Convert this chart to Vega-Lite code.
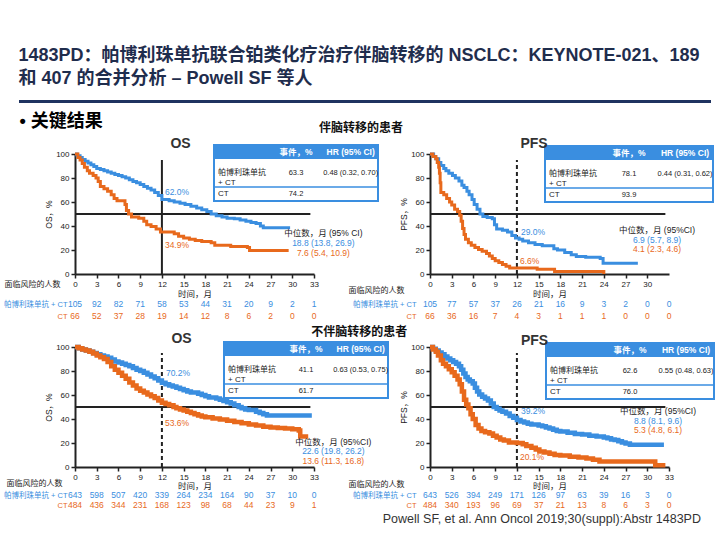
{
"$schema": "https://vega.github.io/schema/vega-lite/v6.json",
"padding": {"left": 3, "top": 47, "right": 2, "bottom": 2},
"background": "white",
"title": {"text": "1483PD：帕博利珠单抗联合铂类化疗治疗伴脑转移的 NSCLC：KEYNOTE-021、189", "subtitle": "和 407 的合并分析 – Powell SF 等人", "anchor": "start", "frame": "bounds", "fontSize": 18, "fontWeight": "bold", "color": "#1f2d4d", "subtitleFontSize": 18, "subtitleFontWeight": "bold", "subtitleColor": "#1f2d4d", "subtitlePadding": 5, "offset": 12, "dx": 15},
"columns": 1,
"spacing": 3,
"concat": [
{
 "width": 572, "height": 3,
 "data": {"values": [{}]},
 "mark": {"type": "rect", "color": "#1f3360"},
 "encoding": {
  "x": {"datum": 0, "type": "quantitative", "scale": {"domain": [0, 1], "range": [-56, 636]}, "axis": {"title": "• 关键结果", "titleAnchor": "start", "titleAlign": "left", "titleX": -56, "labels": false, "ticks": false, "domain": false, "titleFontSize": 18, "titleFontWeight": "bold", "titleColor": "#000000", "titlePadding": 9}},
  "x2": {"datum": 1},
  "y": {"datum": 0, "type": "quantitative", "scale": {"domain": [0, 1]}, "axis": null},
  "y2": {"datum": 1}
 },
 "title": {"text": "伴脑转移的患者", "orient": "bottom", "anchor": "middle", "frame": "group", "fontSize": 12, "fontWeight": "bold", "color": "#111111", "offset": -7}
},
{
 "columns": 2, "bounds": "flush", "align": "each", "spacing": {"row": 24, "column": 116},
 "concat": [
 {
  "width": 239, "height": 120,
  "title": {"text": "OS", "fontSize": 14, "fontWeight": "bold", "color": "#333333", "anchor": "middle", "frame": "group", "offset": 0, "dx": -14, "dy": 7},
  "layer": [
   {"layer": [
    {"data": {"values": [{}]}, "mark": {"type": "rule", "color": "#222222", "strokeWidth": 2},
     "encoding": {"x": {"datum": 12, "type": "quantitative", "title": "时间，月"}, "y": {"datum": 0, "type": "quantitative", "title": "OS，%"}, "y2": {"datum": 95}}},
    {"data": {"values": [{}]}, "mark": {"type": "rule", "color": "#222222", "strokeWidth": 1.8},
     "encoding": {"x": {"datum": 0, "type": "quantitative", "title": "时间，月"}, "x2": {"datum": 32.5}, "y": {"datum": 50, "type": "quantitative", "title": "OS，%"}}},
    {"data": {"name": "km"}, "transform": [{"filter": "datum.p == 'P1'"}],
     "mark": {"type": "line", "interpolate": "step-after", "strokeWidth": 3},
     "encoding": {
      "x": {"field": "t", "type": "quantitative", "title": "时间，月", "scale": {"domain": [0, 33], "nice": false}, "axis": {"values": [0,3,6,9,12,15,18,21,24,27,30,33], "tickCount": 12, "titlePadding": 1}},
      "y": {"field": "s", "type": "quantitative", "title": "OS，%", "scale": {"domain": [0, 100], "nice": false}, "axis": {"values": [0,20,40,60,80,100], "tickCount": 6, "titlePadding": 2}},
      "color": {"field": "a", "type": "nominal", "scale": {"domain": ["P", "C", "H"], "range": ["#3a8ee0", "#e8691c", "#222222"]}, "legend": null}}},
    {"data": {"name": "lm"}, "transform": [{"filter": "datum.p == 'P1' && datum.a == 'P'"}],
     "mark": {"type": "text", "align": "left", "baseline": "middle", "dx": 3, "dy": -8, "fontSize": 8.5},
     "encoding": {"x": {"field": "t", "type": "quantitative", "title": "时间，月"}, "y": {"field": "s", "type": "quantitative", "title": "OS，%"}, "text": {"field": "lab"}, "color": {"field": "a", "type": "nominal", "legend": null}}},
    {"data": {"name": "lm"}, "transform": [{"filter": "datum.p == 'P1' && datum.a == 'C'"}],
     "mark": {"type": "text", "align": "left", "baseline": "middle", "dx": 3, "dy": 13, "fontSize": 8.5},
     "encoding": {"x": {"field": "t", "type": "quantitative", "title": "时间，月"}, "y": {"field": "s", "type": "quantitative", "title": "OS，%"}, "text": {"field": "lab"}, "color": {"field": "a", "type": "nominal", "legend": null}}}
   ]},
   {"layer": [
     {"layer": [
      {"data": {"values": [{}]}, "mark": {"type": "rect", "fill": "#ffffff", "stroke": "#3a8ee0", "strokeWidth": 2},
       "encoding": {
        "x": {"datum": "name", "type": "nominal", "bandPosition": 0, "scale": {"domain": ["name", "ev", "hr"], "range": [139, 303], "paddingInner": 0, "paddingOuter": 0}, "axis": null},
        "x2": {"datum": "hr", "bandPosition": 1},
        "y": {"datum": "h", "type": "nominal", "bandPosition": 0, "scale": {"domain": ["h", "a", "a2", "b"], "range": [-9, 47], "paddingInner": 0, "paddingOuter": 0}, "axis": null},
        "y2": {"datum": "b", "bandPosition": 1}}},
      {"data": {"values": [{}]}, "mark": {"type": "rect", "fill": "#3a8ee0"},
       "encoding": {"x": {"datum": "name", "type": "nominal", "bandPosition": 0, "axis": null}, "x2": {"datum": "hr", "bandPosition": 1}, "y": {"datum": "h", "type": "nominal", "axis": null}}},
      {"data": {"values": [{}]}, "mark": {"type": "rule", "color": "#3a8ee0", "strokeWidth": 1.5},
       "encoding": {"x": {"datum": "name", "type": "nominal", "bandPosition": 0, "axis": null}, "x2": {"datum": "hr", "bandPosition": 1}, "y": {"datum": "b", "type": "nominal", "bandPosition": 0, "axis": null}}},
      {"data": {"name": "tbl"}, "transform": [{"filter": "datum.p == 'P1' && datum.r == 'h'"}],
       "mark": {"type": "text", "color": "#ffffff", "fontWeight": "bold", "fontSize": 8.5},
       "encoding": {"x": {"field": "c", "type": "nominal", "axis": null}, "y": {"field": "r", "type": "nominal", "axis": null}, "text": {"field": "t"}}},
      {"data": {"name": "tbl"}, "transform": [{"filter": "datum.p == 'P1' && datum.r == 'a' && datum.c == 'name'"}],
       "mark": {"type": "text", "color": "#222222", "align": "left", "dx": 4, "fontSize": 8, "lineBreak": "\n", "lineHeight": 9.5},
       "encoding": {"x": {"field": "c", "type": "nominal", "bandPosition": 0, "axis": null}, "y": {"field": "r", "type": "nominal", "bandPosition": 1, "axis": null}, "text": {"field": "t"}}},
      {"data": {"name": "tbl"}, "transform": [{"filter": "datum.p == 'P1' && datum.r == 'a' && datum.c != 'name'"}],
       "mark": {"type": "text", "color": "#222222", "fontSize": 7.5},
       "encoding": {"x": {"field": "c", "type": "nominal", "axis": null}, "y": {"field": "r", "type": "nominal", "bandPosition": 1, "axis": null}, "text": {"field": "t"}}},
      {"data": {"name": "tbl"}, "transform": [{"filter": "datum.p == 'P1' && datum.r == 'b' && datum.c == 'name'"}],
       "mark": {"type": "text", "color": "#222222", "align": "left", "dx": 4, "fontSize": 8},
       "encoding": {"x": {"field": "c", "type": "nominal", "bandPosition": 0, "axis": null}, "y": {"field": "r", "type": "nominal", "axis": null}, "text": {"field": "t"}}},
      {"data": {"name": "tbl"}, "transform": [{"filter": "datum.p == 'P1' && datum.r == 'b' && datum.c != 'name'"}],
       "mark": {"type": "text", "color": "#222222", "fontSize": 7.5},
       "encoding": {"x": {"field": "c", "type": "nominal", "axis": null}, "y": {"field": "r", "type": "nominal", "axis": null}, "text": {"field": "t"}}}
     ]},
     {"data": {"name": "med"}, "transform": [{"filter": "datum.p == 'P1'"}],
      "mark": {"type": "text", "fontSize": 8.5},
      "encoding": {"x": {"datum": "ev", "type": "nominal", "bandPosition": 1, "axis": null}, "y": {"field": "row", "type": "nominal", "scale": {"domain": ["m0", "m1", "m2"], "range": [74, 104.5], "paddingInner": 0, "paddingOuter": 0}, "axis": null}, "text": {"field": "lab"}, "color": {"field": "a", "type": "nominal", "legend": null}}}
    ],
    "resolve": {"scale": {"y": "independent"}}}
  ],
  "resolve": {"scale": {"x": "independent", "y": "independent"}}
 },
 {
  "width": 239, "height": 120,
  "title": {"text": "PFS", "fontSize": 14, "fontWeight": "bold", "color": "#333333", "anchor": "middle", "frame": "group", "offset": 0, "dx": -15.5, "dy": 6},
  "layer": [
   {"layer": [
    {"data": {"values": [{}]}, "mark": {"type": "rule", "color": "#222222", "strokeWidth": 2, "strokeDash": [4, 3]},
     "encoding": {"x": {"datum": 12, "type": "quantitative", "title": "时间，月"}, "y": {"datum": 0, "type": "quantitative", "title": "PFS，%"}, "y2": {"datum": 95}}},
    {"data": {"values": [{}]}, "mark": {"type": "rule", "color": "#222222", "strokeWidth": 1.8},
     "encoding": {"x": {"datum": 0, "type": "quantitative", "title": "时间，月"}, "x2": {"datum": 32.5}, "y": {"datum": 50, "type": "quantitative", "title": "PFS，%"}}},
    {"data": {"name": "km"}, "transform": [{"filter": "datum.p == 'P2'"}],
     "mark": {"type": "line", "interpolate": "step-after", "strokeWidth": 3},
     "encoding": {
      "x": {"field": "t", "type": "quantitative", "title": "时间，月", "scale": {"domain": [0, 33], "nice": false}, "axis": {"values": [0,3,6,9,12,15,18,21,24,27,30], "tickCount": 11, "titlePadding": 1}},
      "y": {"field": "s", "type": "quantitative", "title": "PFS，%", "scale": {"domain": [0, 100], "nice": false}, "axis": {"values": [0,20,40,60,80,100], "tickCount": 6, "titlePadding": 2}},
      "color": {"field": "a", "type": "nominal", "scale": {"domain": ["P", "C", "H"], "range": ["#3a8ee0", "#e8691c", "#222222"]}, "legend": null}}},
    {"data": {"name": "lm"}, "transform": [{"filter": "datum.p == 'P2' && datum.a == 'P'"}],
     "mark": {"type": "text", "align": "left", "baseline": "middle", "dx": 4, "dy": -7, "fontSize": 8.5},
     "encoding": {"x": {"field": "t", "type": "quantitative", "title": "时间，月"}, "y": {"field": "s", "type": "quantitative", "title": "PFS，%"}, "text": {"field": "lab"}, "color": {"field": "a", "type": "nominal", "legend": null}}},
    {"data": {"name": "lm"}, "transform": [{"filter": "datum.p == 'P2' && datum.a == 'C'"}],
     "mark": {"type": "text", "align": "left", "baseline": "middle", "dx": 3, "dy": -5, "fontSize": 8.5},
     "encoding": {"x": {"field": "t", "type": "quantitative", "title": "时间，月"}, "y": {"field": "s", "type": "quantitative", "title": "PFS，%"}, "text": {"field": "lab"}, "color": {"field": "a", "type": "nominal", "legend": null}}}
   ]},
   {"layer": [
     {"layer": [
      {"data": {"values": [{}]}, "mark": {"type": "rect", "fill": "#ffffff", "stroke": "#3a8ee0", "strokeWidth": 2},
       "encoding": {
        "x": {"datum": "name", "type": "nominal", "bandPosition": 0, "scale": {"domain": ["name", "ev", "hr"], "range": [115, 283], "paddingInner": 0, "paddingOuter": 0}, "axis": null},
        "x2": {"datum": "hr", "bandPosition": 1},
        "y": {"datum": "h", "type": "nominal", "bandPosition": 0, "scale": {"domain": ["h", "a", "a2", "b"], "range": [-8, 48], "paddingInner": 0, "paddingOuter": 0}, "axis": null},
        "y2": {"datum": "b", "bandPosition": 1}}},
      {"data": {"values": [{}]}, "mark": {"type": "rect", "fill": "#3a8ee0"},
       "encoding": {"x": {"datum": "name", "type": "nominal", "bandPosition": 0, "axis": null}, "x2": {"datum": "hr", "bandPosition": 1}, "y": {"datum": "h", "type": "nominal", "axis": null}}},
      {"data": {"values": [{}]}, "mark": {"type": "rule", "color": "#3a8ee0", "strokeWidth": 1.5},
       "encoding": {"x": {"datum": "name", "type": "nominal", "bandPosition": 0, "axis": null}, "x2": {"datum": "hr", "bandPosition": 1}, "y": {"datum": "b", "type": "nominal", "bandPosition": 0, "axis": null}}},
      {"data": {"name": "tbl"}, "transform": [{"filter": "datum.p == 'P2' && datum.r == 'h'"}],
       "mark": {"type": "text", "color": "#ffffff", "fontWeight": "bold", "fontSize": 8.5},
       "encoding": {"x": {"field": "c", "type": "nominal", "axis": null}, "y": {"field": "r", "type": "nominal", "axis": null}, "text": {"field": "t"}}},
      {"data": {"name": "tbl"}, "transform": [{"filter": "datum.p == 'P2' && datum.r == 'a' && datum.c == 'name'"}],
       "mark": {"type": "text", "color": "#222222", "align": "left", "dx": 4, "fontSize": 8, "lineBreak": "\n", "lineHeight": 9.5},
       "encoding": {"x": {"field": "c", "type": "nominal", "bandPosition": 0, "axis": null}, "y": {"field": "r", "type": "nominal", "bandPosition": 1, "axis": null}, "text": {"field": "t"}}},
      {"data": {"name": "tbl"}, "transform": [{"filter": "datum.p == 'P2' && datum.r == 'a' && datum.c != 'name'"}],
       "mark": {"type": "text", "color": "#222222", "fontSize": 7.5},
       "encoding": {"x": {"field": "c", "type": "nominal", "axis": null}, "y": {"field": "r", "type": "nominal", "bandPosition": 1, "axis": null}, "text": {"field": "t"}}},
      {"data": {"name": "tbl"}, "transform": [{"filter": "datum.p == 'P2' && datum.r == 'b' && datum.c == 'name'"}],
       "mark": {"type": "text", "color": "#222222", "align": "left", "dx": 4, "fontSize": 8},
       "encoding": {"x": {"field": "c", "type": "nominal", "bandPosition": 0, "axis": null}, "y": {"field": "r", "type": "nominal", "axis": null}, "text": {"field": "t"}}},
      {"data": {"name": "tbl"}, "transform": [{"filter": "datum.p == 'P2' && datum.r == 'b' && datum.c != 'name'"}],
       "mark": {"type": "text", "color": "#222222", "fontSize": 7.5},
       "encoding": {"x": {"field": "c", "type": "nominal", "axis": null}, "y": {"field": "r", "type": "nominal", "axis": null}, "text": {"field": "t"}}}
     ]},
     {"data": {"name": "med"}, "transform": [{"filter": "datum.p == 'P2'"}],
      "mark": {"type": "text", "fontSize": 8.5},
      "encoding": {"x": {"datum": "ev", "type": "nominal", "bandPosition": 1, "axis": null}, "y": {"field": "row", "type": "nominal", "scale": {"domain": ["m0", "m1", "m2"], "range": [71, 100], "paddingInner": 0, "paddingOuter": 0}, "axis": null}, "text": {"field": "lab"}, "color": {"field": "a", "type": "nominal", "legend": null}}}
    ],
    "resolve": {"scale": {"y": "independent"}}}
  ],
  "resolve": {"scale": {"x": "independent", "y": "independent"}}
 },
 {
  "width": 239, "height": 24,
  "data": {"name": "risk"},
  "transform": [{"filter": "datum.p == 'P1'"}],
  "mark": {"type": "text", "fontSize": 8.5},
  "encoding": {
   "x": {"field": "t", "type": "quantitative", "scale": {"domain": [0, 33], "nice": false}, "axis": null},
   "y": {"field": "a", "type": "nominal", "scale": {"domain": ["P", "C"], "paddingInner": 0, "paddingOuter": 0}, "axis": {"title": "面临风险的人数", "titleAngle": 0, "titleAlign": "left", "titleBaseline": "middle", "titleX": -71, "titleY": -14, "titleFontSize": 8, "domain": false, "ticks": false, "labelPadding": 8, "labelFontSize": 7.5, "labelExpr": "datum.value == 'P' ? '帕博利珠单抗 + CT' : 'CT'", "labelColor": {"condition": {"test": "datum.value == 'C'", "value": "#e8691c"}, "value": "#3a8ee0"}}},
   "text": {"field": "n", "type": "quantitative"},
   "color": {"field": "a", "type": "nominal", "scale": {"domain": ["P", "C", "H"], "range": ["#3a8ee0", "#e8691c", "#222222"]}, "legend": null}
  }
 },
 {
  "width": 239, "height": 24,
  "data": {"name": "risk"},
  "transform": [{"filter": "datum.p == 'P2'"}],
  "mark": {"type": "text", "fontSize": 8.5},
  "encoding": {
   "x": {"field": "t", "type": "quantitative", "scale": {"domain": [0, 33], "nice": false}, "axis": null},
   "y": {"field": "a", "type": "nominal", "scale": {"domain": ["P", "C"], "paddingInner": 0, "paddingOuter": 0}, "axis": {"title": "面临风险的人数", "titleAngle": 0, "titleAlign": "left", "titleBaseline": "middle", "titleX": -82, "titleY": -8, "titleFontSize": 8, "domain": false, "ticks": false, "labelPadding": 14, "labelFontSize": 7.5, "labelExpr": "datum.value == 'P' ? '帕博利珠单抗 + CT' : 'CT'", "labelColor": {"condition": {"test": "datum.value == 'C'", "value": "#e8691c"}, "value": "#3a8ee0"}}},
   "text": {"field": "n", "type": "quantitative"},
   "color": {"field": "a", "type": "nominal", "scale": {"domain": ["P", "C", "H"], "range": ["#3a8ee0", "#e8691c", "#222222"]}, "legend": null}
  }
 }
 ]
},
{
 "columns": 2, "bounds": "flush", "align": "each", "spacing": {"row": 23, "column": 116},
 "title": {"text": "不伴脑转移的患者", "anchor": "middle", "frame": "bounds", "fontSize": 12, "fontWeight": "bold", "color": "#111111", "offset": -6.5},
 "concat": [
 {
  "width": 239, "height": 120,
  "title": {"text": "OS", "fontSize": 14, "fontWeight": "bold", "color": "#333333", "anchor": "middle", "frame": "group", "offset": 0, "dx": -13, "dy": 8},
  "layer": [
   {"layer": [
    {"data": {"values": [{}]}, "mark": {"type": "rule", "color": "#222222", "strokeWidth": 2, "strokeDash": [4, 3]},
     "encoding": {"x": {"datum": 12, "type": "quantitative", "title": "时间，月"}, "y": {"datum": 0, "type": "quantitative", "title": "OS，%"}, "y2": {"datum": 95}}},
    {"data": {"values": [{}]}, "mark": {"type": "rule", "color": "#222222", "strokeWidth": 1.8},
     "encoding": {"x": {"datum": 0, "type": "quantitative", "title": "时间，月"}, "x2": {"datum": 32.5}, "y": {"datum": 50, "type": "quantitative", "title": "OS，%"}}},
    {"data": {"name": "km"}, "transform": [{"filter": "datum.p == 'P3'"}],
     "mark": {"type": "line", "interpolate": "step-after", "strokeWidth": 4.5},
     "encoding": {
      "x": {"field": "t", "type": "quantitative", "title": "时间，月", "scale": {"domain": [0, 33], "nice": false}, "axis": {"values": [0,3,6,9,12,15,18,21,24,27,30,33], "tickCount": 12, "titlePadding": 0}},
      "y": {"field": "s", "type": "quantitative", "title": "OS，%", "scale": {"domain": [0, 100], "nice": false}, "axis": {"values": [0,20,40,60,80,100], "tickCount": 6, "titlePadding": 2}},
      "color": {"field": "a", "type": "nominal", "scale": {"domain": ["P", "C", "H"], "range": ["#3a8ee0", "#e8691c", "#222222"]}, "legend": null}}},
    {"data": {"name": "lm"}, "transform": [{"filter": "datum.p == 'P3' && datum.a == 'P'"}],
     "mark": {"type": "text", "align": "left", "baseline": "middle", "dx": 4, "dy": -10, "fontSize": 8.5},
     "encoding": {"x": {"field": "t", "type": "quantitative", "title": "时间，月"}, "y": {"field": "s", "type": "quantitative", "title": "OS，%"}, "text": {"field": "lab"}, "color": {"field": "a", "type": "nominal", "legend": null}}},
    {"data": {"name": "lm"}, "transform": [{"filter": "datum.p == 'P3' && datum.a == 'C'"}],
     "mark": {"type": "text", "align": "left", "baseline": "middle", "dx": 3, "dy": 20, "fontSize": 8.5},
     "encoding": {"x": {"field": "t", "type": "quantitative", "title": "时间，月"}, "y": {"field": "s", "type": "quantitative", "title": "OS，%"}, "text": {"field": "lab"}, "color": {"field": "a", "type": "nominal", "legend": null}}}
   ]},
   {"layer": [
     {"layer": [
      {"data": {"values": [{}]}, "mark": {"type": "rect", "fill": "#ffffff", "stroke": "#3a8ee0", "strokeWidth": 2},
       "encoding": {
        "x": {"datum": "name", "type": "nominal", "bandPosition": 0, "scale": {"domain": ["name", "ev", "hr"], "range": [149, 313], "paddingInner": 0, "paddingOuter": 0}, "axis": null},
        "x2": {"datum": "hr", "bandPosition": 1},
        "y": {"datum": "h", "type": "nominal", "bandPosition": 0, "scale": {"domain": ["h", "a", "a2", "b"], "range": [-5, 51], "paddingInner": 0, "paddingOuter": 0}, "axis": null},
        "y2": {"datum": "b", "bandPosition": 1}}},
      {"data": {"values": [{}]}, "mark": {"type": "rect", "fill": "#3a8ee0"},
       "encoding": {"x": {"datum": "name", "type": "nominal", "bandPosition": 0, "axis": null}, "x2": {"datum": "hr", "bandPosition": 1}, "y": {"datum": "h", "type": "nominal", "axis": null}}},
      {"data": {"values": [{}]}, "mark": {"type": "rule", "color": "#3a8ee0", "strokeWidth": 1.5},
       "encoding": {"x": {"datum": "name", "type": "nominal", "bandPosition": 0, "axis": null}, "x2": {"datum": "hr", "bandPosition": 1}, "y": {"datum": "b", "type": "nominal", "bandPosition": 0, "axis": null}}},
      {"data": {"name": "tbl"}, "transform": [{"filter": "datum.p == 'P3' && datum.r == 'h'"}],
       "mark": {"type": "text", "color": "#ffffff", "fontWeight": "bold", "fontSize": 8.5},
       "encoding": {"x": {"field": "c", "type": "nominal", "axis": null}, "y": {"field": "r", "type": "nominal", "axis": null}, "text": {"field": "t"}}},
      {"data": {"name": "tbl"}, "transform": [{"filter": "datum.p == 'P3' && datum.r == 'a' && datum.c == 'name'"}],
       "mark": {"type": "text", "color": "#222222", "align": "left", "dx": 4, "fontSize": 8, "lineBreak": "\n", "lineHeight": 9.5},
       "encoding": {"x": {"field": "c", "type": "nominal", "bandPosition": 0, "axis": null}, "y": {"field": "r", "type": "nominal", "bandPosition": 1, "axis": null}, "text": {"field": "t"}}},
      {"data": {"name": "tbl"}, "transform": [{"filter": "datum.p == 'P3' && datum.r == 'a' && datum.c != 'name'"}],
       "mark": {"type": "text", "color": "#222222", "fontSize": 7.5},
       "encoding": {"x": {"field": "c", "type": "nominal", "axis": null}, "y": {"field": "r", "type": "nominal", "bandPosition": 1, "axis": null}, "text": {"field": "t"}}},
      {"data": {"name": "tbl"}, "transform": [{"filter": "datum.p == 'P3' && datum.r == 'b' && datum.c == 'name'"}],
       "mark": {"type": "text", "color": "#222222", "align": "left", "dx": 4, "fontSize": 8},
       "encoding": {"x": {"field": "c", "type": "nominal", "bandPosition": 0, "axis": null}, "y": {"field": "r", "type": "nominal", "axis": null}, "text": {"field": "t"}}},
      {"data": {"name": "tbl"}, "transform": [{"filter": "datum.p == 'P3' && datum.r == 'b' && datum.c != 'name'"}],
       "mark": {"type": "text", "color": "#222222", "fontSize": 7.5},
       "encoding": {"x": {"field": "c", "type": "nominal", "axis": null}, "y": {"field": "r", "type": "nominal", "axis": null}, "text": {"field": "t"}}}
     ]},
     {"data": {"name": "med"}, "transform": [{"filter": "datum.p == 'P3'"}],
      "mark": {"type": "text", "fontSize": 8.5},
      "encoding": {"x": {"datum": "ev", "type": "nominal", "bandPosition": 1, "axis": null}, "y": {"field": "row", "type": "nominal", "scale": {"domain": ["m0", "m1", "m2"], "range": [90, 118.5], "paddingInner": 0, "paddingOuter": 0}, "axis": null}, "text": {"field": "lab"}, "color": {"field": "a", "type": "nominal", "legend": null}}}
    ],
    "resolve": {"scale": {"y": "independent"}}}
  ],
  "resolve": {"scale": {"x": "independent", "y": "independent"}}
 },
 {
  "width": 239, "height": 120,
  "title": {"text": "PFS", "fontSize": 14, "fontWeight": "bold", "color": "#333333", "anchor": "middle", "frame": "group", "offset": 0, "dx": -15, "dy": 10},
  "layer": [
   {"layer": [
    {"data": {"values": [{}]}, "mark": {"type": "rule", "color": "#222222", "strokeWidth": 2, "strokeDash": [4, 3]},
     "encoding": {"x": {"datum": 12, "type": "quantitative", "title": "时间，月"}, "y": {"datum": 0, "type": "quantitative", "title": "PFS，%"}, "y2": {"datum": 95}}},
    {"data": {"values": [{}]}, "mark": {"type": "rule", "color": "#222222", "strokeWidth": 1.8},
     "encoding": {"x": {"datum": 0, "type": "quantitative", "title": "时间，月"}, "x2": {"datum": 32.5}, "y": {"datum": 50, "type": "quantitative", "title": "PFS，%"}}},
    {"data": {"name": "km"}, "transform": [{"filter": "datum.p == 'P4'"}],
     "mark": {"type": "line", "interpolate": "step-after", "strokeWidth": 4.5},
     "encoding": {
      "x": {"field": "t", "type": "quantitative", "title": "时间，月", "scale": {"domain": [0, 33], "nice": false}, "axis": {"values": [0,3,6,9,12,15,18,21,24,27,30,33], "tickCount": 12, "titlePadding": 0}},
      "y": {"field": "s", "type": "quantitative", "title": "PFS，%", "scale": {"domain": [0, 100], "nice": false}, "axis": {"values": [0,20,40,60,80,100], "tickCount": 6, "titlePadding": 2}},
      "color": {"field": "a", "type": "nominal", "scale": {"domain": ["P", "C", "H"], "range": ["#3a8ee0", "#e8691c", "#222222"]}, "legend": null}}},
    {"data": {"name": "lm"}, "transform": [{"filter": "datum.p == 'P4' && datum.a == 'P'"}],
     "mark": {"type": "text", "align": "left", "baseline": "middle", "dx": 4, "dy": -9, "fontSize": 8.5},
     "encoding": {"x": {"field": "t", "type": "quantitative", "title": "时间，月"}, "y": {"field": "s", "type": "quantitative", "title": "PFS，%"}, "text": {"field": "lab"}, "color": {"field": "a", "type": "nominal", "legend": null}}},
    {"data": {"name": "lm"}, "transform": [{"filter": "datum.p == 'P4' && datum.a == 'C'"}],
     "mark": {"type": "text", "align": "left", "baseline": "middle", "dx": 3, "dy": 14, "fontSize": 8.5},
     "encoding": {"x": {"field": "t", "type": "quantitative", "title": "时间，月"}, "y": {"field": "s", "type": "quantitative", "title": "PFS，%"}, "text": {"field": "lab"}, "color": {"field": "a", "type": "nominal", "legend": null}}}
   ]},
   {"layer": [
     {"layer": [
      {"data": {"values": [{}]}, "mark": {"type": "rect", "fill": "#ffffff", "stroke": "#3a8ee0", "strokeWidth": 2},
       "encoding": {
        "x": {"datum": "name", "type": "nominal", "bandPosition": 0, "scale": {"domain": ["name", "ev", "hr"], "range": [116, 284], "paddingInner": 0, "paddingOuter": 0}, "axis": null},
        "x2": {"datum": "hr", "bandPosition": 1},
        "y": {"datum": "h", "type": "nominal", "bandPosition": 0, "scale": {"domain": ["h", "a", "a2", "b"], "range": [-4, 52], "paddingInner": 0, "paddingOuter": 0}, "axis": null},
        "y2": {"datum": "b", "bandPosition": 1}}},
      {"data": {"values": [{}]}, "mark": {"type": "rect", "fill": "#3a8ee0"},
       "encoding": {"x": {"datum": "name", "type": "nominal", "bandPosition": 0, "axis": null}, "x2": {"datum": "hr", "bandPosition": 1}, "y": {"datum": "h", "type": "nominal", "axis": null}}},
      {"data": {"values": [{}]}, "mark": {"type": "rule", "color": "#3a8ee0", "strokeWidth": 1.5},
       "encoding": {"x": {"datum": "name", "type": "nominal", "bandPosition": 0, "axis": null}, "x2": {"datum": "hr", "bandPosition": 1}, "y": {"datum": "b", "type": "nominal", "bandPosition": 0, "axis": null}}},
      {"data": {"name": "tbl"}, "transform": [{"filter": "datum.p == 'P4' && datum.r == 'h'"}],
       "mark": {"type": "text", "color": "#ffffff", "fontWeight": "bold", "fontSize": 8.5},
       "encoding": {"x": {"field": "c", "type": "nominal", "axis": null}, "y": {"field": "r", "type": "nominal", "axis": null}, "text": {"field": "t"}}},
      {"data": {"name": "tbl"}, "transform": [{"filter": "datum.p == 'P4' && datum.r == 'a' && datum.c == 'name'"}],
       "mark": {"type": "text", "color": "#222222", "align": "left", "dx": 4, "fontSize": 8, "lineBreak": "\n", "lineHeight": 9.5},
       "encoding": {"x": {"field": "c", "type": "nominal", "bandPosition": 0, "axis": null}, "y": {"field": "r", "type": "nominal", "bandPosition": 1, "axis": null}, "text": {"field": "t"}}},
      {"data": {"name": "tbl"}, "transform": [{"filter": "datum.p == 'P4' && datum.r == 'a' && datum.c != 'name'"}],
       "mark": {"type": "text", "color": "#222222", "fontSize": 7.5},
       "encoding": {"x": {"field": "c", "type": "nominal", "axis": null}, "y": {"field": "r", "type": "nominal", "bandPosition": 1, "axis": null}, "text": {"field": "t"}}},
      {"data": {"name": "tbl"}, "transform": [{"filter": "datum.p == 'P4' && datum.r == 'b' && datum.c == 'name'"}],
       "mark": {"type": "text", "color": "#222222", "align": "left", "dx": 4, "fontSize": 8},
       "encoding": {"x": {"field": "c", "type": "nominal", "bandPosition": 0, "axis": null}, "y": {"field": "r", "type": "nominal", "axis": null}, "text": {"field": "t"}}},
      {"data": {"name": "tbl"}, "transform": [{"filter": "datum.p == 'P4' && datum.r == 'b' && datum.c != 'name'"}],
       "mark": {"type": "text", "color": "#222222", "fontSize": 7.5},
       "encoding": {"x": {"field": "c", "type": "nominal", "axis": null}, "y": {"field": "r", "type": "nominal", "axis": null}, "text": {"field": "t"}}}
     ]},
     {"data": {"name": "med"}, "transform": [{"filter": "datum.p == 'P4'"}],
      "mark": {"type": "text", "fontSize": 8.5},
      "encoding": {"x": {"datum": "ev", "type": "nominal", "bandPosition": 1, "axis": null}, "y": {"field": "row", "type": "nominal", "scale": {"domain": ["m0", "m1", "m2"], "range": [59, 88], "paddingInner": 0, "paddingOuter": 0}, "axis": null}, "text": {"field": "lab"}, "color": {"field": "a", "type": "nominal", "legend": null}}}
    ],
    "resolve": {"scale": {"y": "independent"}}}
  ],
  "resolve": {"scale": {"x": "independent", "y": "independent"}}
 },
 {
  "width": 239, "height": 20,
  "data": {"name": "risk"},
  "transform": [{"filter": "datum.p == 'P3'"}],
  "mark": {"type": "text", "fontSize": 8.5},
  "encoding": {
   "x": {"field": "t", "type": "quantitative", "scale": {"domain": [0, 33], "nice": false}, "axis": null},
   "y": {"field": "a", "type": "nominal", "scale": {"domain": ["P", "C"], "paddingInner": 0, "paddingOuter": 0}, "axis": {"title": "面临风险的人数", "titleAngle": 0, "titleAlign": "left", "titleBaseline": "middle", "titleX": -69, "titleY": -7, "titleFontSize": 8, "domain": false, "ticks": false, "labelPadding": 8, "labelFontSize": 7.5, "labelExpr": "datum.value == 'P' ? '帕博利珠单抗 + CT' : 'CT'", "labelColor": {"condition": {"test": "datum.value == 'C'", "value": "#e8691c"}, "value": "#3a8ee0"}}},
   "text": {"field": "n", "type": "quantitative"},
   "color": {"field": "a", "type": "nominal", "scale": {"domain": ["P", "C", "H"], "range": ["#3a8ee0", "#e8691c", "#222222"]}, "legend": null}
  }
 },
 {
  "width": 239, "height": 20,
  "title": {"text": "Powell SF, et al. Ann Oncol 2019;30(suppl):Abstr 1483PD", "orient": "bottom", "anchor": "end", "frame": "group", "fontSize": 12.5, "fontWeight": "normal", "color": "#333333", "offset": 3, "dx": 32},
  "data": {"name": "risk"},
  "transform": [{"filter": "datum.p == 'P4'"}],
  "mark": {"type": "text", "fontSize": 8.5},
  "encoding": {
   "x": {"field": "t", "type": "quantitative", "scale": {"domain": [0, 33], "nice": false}, "axis": null},
   "y": {"field": "a", "type": "nominal", "scale": {"domain": ["P", "C"], "paddingInner": 0, "paddingOuter": 0}, "axis": {"title": "面临风险的人数", "titleAngle": 0, "titleAlign": "left", "titleBaseline": "middle", "titleX": -82, "titleY": -6, "titleFontSize": 8, "domain": false, "ticks": false, "labelPadding": 14, "labelFontSize": 7.5, "labelExpr": "datum.value == 'P' ? '帕博利珠单抗 + CT' : 'CT'", "labelColor": {"condition": {"test": "datum.value == 'C'", "value": "#e8691c"}, "value": "#3a8ee0"}}},
   "text": {"field": "n", "type": "quantitative"},
   "color": {"field": "a", "type": "nominal", "scale": {"domain": ["P", "C", "H"], "range": ["#3a8ee0", "#e8691c", "#222222"]}, "legend": null}
  }
 }
 ]
}
],
"datasets": {
"lm": [
 {"p":"P1","a":"P","t":12,"s":62.0,"lab":"62.0%"},{"p":"P1","a":"C","t":12,"s":34.9,"lab":"34.9%"},
 {"p":"P2","a":"P","t":12,"s":29.0,"lab":"29.0%"},{"p":"P2","a":"C","t":12,"s":6.6,"lab":"6.6%"},
 {"p":"P3","a":"P","t":12,"s":70.2,"lab":"70.2%"},{"p":"P3","a":"C","t":12,"s":53.6,"lab":"53.6%"},
 {"p":"P4","a":"P","t":12,"s":39.2,"lab":"39.2%"},{"p":"P4","a":"C","t":12,"s":20.1,"lab":"20.1%"}
],
"tbl": [
 {"p":"P1","r":"h","c":"ev","t":"事件，%"},{"p":"P1","r":"h","c":"hr","t":"HR (95% CI)"},
 {"p":"P1","r":"a","c":"name","t":"帕博利珠单抗\n+ CT"},{"p":"P1","r":"a","c":"ev","t":"63.3"},{"p":"P1","r":"a","c":"hr","t":"0.48 (0.32, 0.70)"},
 {"p":"P1","r":"b","c":"name","t":"CT"},{"p":"P1","r":"b","c":"ev","t":"74.2"},
 {"p":"P2","r":"h","c":"ev","t":"事件，%"},{"p":"P2","r":"h","c":"hr","t":"HR (95% CI)"},
 {"p":"P2","r":"a","c":"name","t":"帕博利珠单抗\n+ CT"},{"p":"P2","r":"a","c":"ev","t":"78.1"},{"p":"P2","r":"a","c":"hr","t":"0.44 (0.31, 0.62)"},
 {"p":"P2","r":"b","c":"name","t":"CT"},{"p":"P2","r":"b","c":"ev","t":"93.9"},
 {"p":"P3","r":"h","c":"ev","t":"事件，%"},{"p":"P3","r":"h","c":"hr","t":"HR (95% CI)"},
 {"p":"P3","r":"a","c":"name","t":"帕博利珠单抗\n+ CT"},{"p":"P3","r":"a","c":"ev","t":"41.1"},{"p":"P3","r":"a","c":"hr","t":"0.63 (0.53, 0.75)"},
 {"p":"P3","r":"b","c":"name","t":"CT"},{"p":"P3","r":"b","c":"ev","t":"61.7"},
 {"p":"P4","r":"h","c":"ev","t":"事件，%"},{"p":"P4","r":"h","c":"hr","t":"HR (95% CI)"},
 {"p":"P4","r":"a","c":"name","t":"帕博利珠单抗\n+ CT"},{"p":"P4","r":"a","c":"ev","t":"62.6"},{"p":"P4","r":"a","c":"hr","t":"0.55 (0.48, 0.63)"},
 {"p":"P4","r":"b","c":"name","t":"CT"},{"p":"P4","r":"b","c":"ev","t":"76.0"}
],
"med": [
 {"p":"P1","row":"m0","a":"H","lab":"中位数，月 (95% CI)"},{"p":"P1","row":"m1","a":"P","lab":"18.8 (13.8, 26.9)"},{"p":"P1","row":"m2","a":"C","lab":"7.6 (5.4, 10.9)"},
 {"p":"P2","row":"m0","a":"H","lab":"中位数，月 (95%CI)"},{"p":"P2","row":"m1","a":"P","lab":"6.9 (5.7, 8.9)"},{"p":"P2","row":"m2","a":"C","lab":"4.1 (2.3, 4.6)"},
 {"p":"P3","row":"m0","a":"H","lab":"中位数，月 (95%CI)"},{"p":"P3","row":"m1","a":"P","lab":"22.6 (19.8, 26.2)"},{"p":"P3","row":"m2","a":"C","lab":"13.6 (11.3, 16.8)"},
 {"p":"P4","row":"m0","a":"H","lab":"中位数，月 (95%CI)"},{"p":"P4","row":"m1","a":"P","lab":"8.8 (8.1, 9.6)"},{"p":"P4","row":"m2","a":"C","lab":"5.3 (4.8, 6.1)"}
],
"risk": [
 {"p":"P1","a":"P","t":0,"n":105},{"p":"P1","a":"P","t":3,"n":92},{"p":"P1","a":"P","t":6,"n":82},{"p":"P1","a":"P","t":9,"n":71},{"p":"P1","a":"P","t":12,"n":58},{"p":"P1","a":"P","t":15,"n":53},{"p":"P1","a":"P","t":18,"n":44},{"p":"P1","a":"P","t":21,"n":31},{"p":"P1","a":"P","t":24,"n":20},{"p":"P1","a":"P","t":27,"n":9},{"p":"P1","a":"P","t":30,"n":2},{"p":"P1","a":"P","t":33,"n":1},
 {"p":"P1","a":"C","t":0,"n":66},{"p":"P1","a":"C","t":3,"n":52},{"p":"P1","a":"C","t":6,"n":37},{"p":"P1","a":"C","t":9,"n":28},{"p":"P1","a":"C","t":12,"n":19},{"p":"P1","a":"C","t":15,"n":14},{"p":"P1","a":"C","t":18,"n":12},{"p":"P1","a":"C","t":21,"n":8},{"p":"P1","a":"C","t":24,"n":6},{"p":"P1","a":"C","t":27,"n":2},{"p":"P1","a":"C","t":30,"n":0},{"p":"P1","a":"C","t":33,"n":0},
 {"p":"P2","a":"P","t":0,"n":105},{"p":"P2","a":"P","t":3,"n":77},{"p":"P2","a":"P","t":6,"n":57},{"p":"P2","a":"P","t":9,"n":37},{"p":"P2","a":"P","t":12,"n":26},{"p":"P2","a":"P","t":15,"n":21},{"p":"P2","a":"P","t":18,"n":16},{"p":"P2","a":"P","t":21,"n":9},{"p":"P2","a":"P","t":24,"n":3},{"p":"P2","a":"P","t":27,"n":2},{"p":"P2","a":"P","t":30,"n":0},{"p":"P2","a":"P","t":33,"n":0},
 {"p":"P2","a":"C","t":0,"n":66},{"p":"P2","a":"C","t":3,"n":36},{"p":"P2","a":"C","t":6,"n":16},{"p":"P2","a":"C","t":9,"n":7},{"p":"P2","a":"C","t":12,"n":4},{"p":"P2","a":"C","t":15,"n":3},{"p":"P2","a":"C","t":18,"n":1},{"p":"P2","a":"C","t":21,"n":1},{"p":"P2","a":"C","t":24,"n":1},{"p":"P2","a":"C","t":27,"n":0},{"p":"P2","a":"C","t":30,"n":0},{"p":"P2","a":"C","t":33,"n":0},
 {"p":"P3","a":"P","t":0,"n":643},{"p":"P3","a":"P","t":3,"n":598},{"p":"P3","a":"P","t":6,"n":507},{"p":"P3","a":"P","t":9,"n":420},{"p":"P3","a":"P","t":12,"n":339},{"p":"P3","a":"P","t":15,"n":264},{"p":"P3","a":"P","t":18,"n":234},{"p":"P3","a":"P","t":21,"n":164},{"p":"P3","a":"P","t":24,"n":90},{"p":"P3","a":"P","t":27,"n":37},{"p":"P3","a":"P","t":30,"n":10},{"p":"P3","a":"P","t":33,"n":0},
 {"p":"P3","a":"C","t":0,"n":484},{"p":"P3","a":"C","t":3,"n":436},{"p":"P3","a":"C","t":6,"n":344},{"p":"P3","a":"C","t":9,"n":231},{"p":"P3","a":"C","t":12,"n":168},{"p":"P3","a":"C","t":15,"n":123},{"p":"P3","a":"C","t":18,"n":98},{"p":"P3","a":"C","t":21,"n":68},{"p":"P3","a":"C","t":24,"n":44},{"p":"P3","a":"C","t":27,"n":23},{"p":"P3","a":"C","t":30,"n":9},{"p":"P3","a":"C","t":33,"n":1},
 {"p":"P4","a":"P","t":0,"n":643},{"p":"P4","a":"P","t":3,"n":526},{"p":"P4","a":"P","t":6,"n":394},{"p":"P4","a":"P","t":9,"n":249},{"p":"P4","a":"P","t":12,"n":171},{"p":"P4","a":"P","t":15,"n":126},{"p":"P4","a":"P","t":18,"n":97},{"p":"P4","a":"P","t":21,"n":63},{"p":"P4","a":"P","t":24,"n":39},{"p":"P4","a":"P","t":27,"n":16},{"p":"P4","a":"P","t":30,"n":3},{"p":"P4","a":"P","t":33,"n":0},
 {"p":"P4","a":"C","t":0,"n":484},{"p":"P4","a":"C","t":3,"n":340},{"p":"P4","a":"C","t":6,"n":193},{"p":"P4","a":"C","t":9,"n":96},{"p":"P4","a":"C","t":12,"n":69},{"p":"P4","a":"C","t":15,"n":37},{"p":"P4","a":"C","t":18,"n":21},{"p":"P4","a":"C","t":21,"n":13},{"p":"P4","a":"C","t":24,"n":8},{"p":"P4","a":"C","t":27,"n":6},{"p":"P4","a":"C","t":30,"n":3},{"p":"P4","a":"C","t":33,"n":0}
],
"km": [
 {"p":"P1","a":"P","t":0,"s":100},{"p":"P1","a":"P","t":0.3,"s":98.5},{"p":"P1","a":"P","t":0.7,"s":97},{"p":"P1","a":"P","t":1,"s":95.5},{"p":"P1","a":"P","t":1.4,"s":94},{"p":"P1","a":"P","t":1.8,"s":92.5},{"p":"P1","a":"P","t":2.2,"s":91},{"p":"P1","a":"P","t":2.6,"s":89.5},{"p":"P1","a":"P","t":3,"s":88},{"p":"P1","a":"P","t":3.5,"s":87},{"p":"P1","a":"P","t":4,"s":86},{"p":"P1","a":"P","t":4.5,"s":85},{"p":"P1","a":"P","t":5,"s":84},{"p":"P1","a":"P","t":5.5,"s":83},{"p":"P1","a":"P","t":6,"s":82},{"p":"P1","a":"P","t":6.5,"s":81},{"p":"P1","a":"P","t":7,"s":80},{"p":"P1","a":"P","t":7.5,"s":78.5},{"p":"P1","a":"P","t":8,"s":77},{"p":"P1","a":"P","t":8.5,"s":76},{"p":"P1","a":"P","t":9,"s":74.5},{"p":"P1","a":"P","t":9.5,"s":73},{"p":"P1","a":"P","t":10,"s":71.5},{"p":"P1","a":"P","t":10.5,"s":70},{"p":"P1","a":"P","t":11,"s":68},{"p":"P1","a":"P","t":11.5,"s":65.5},{"p":"P1","a":"P","t":12,"s":62},{"p":"P1","a":"P","t":13,"s":61},{"p":"P1","a":"P","t":13.7,"s":60},{"p":"P1","a":"P","t":14.5,"s":59},{"p":"P1","a":"P","t":15.2,"s":58},{"p":"P1","a":"P","t":16,"s":56.5},{"p":"P1","a":"P","t":16.8,"s":55},{"p":"P1","a":"P","t":17.5,"s":53.5},{"p":"P1","a":"P","t":18.2,"s":52},{"p":"P1","a":"P","t":18.8,"s":50},{"p":"P1","a":"P","t":19.5,"s":48.5},{"p":"P1","a":"P","t":20.3,"s":47.5},{"p":"P1","a":"P","t":21,"s":46.5},{"p":"P1","a":"P","t":22,"s":46},{"p":"P1","a":"P","t":22.8,"s":45},{"p":"P1","a":"P","t":23.6,"s":44},{"p":"P1","a":"P","t":24.3,"s":43},{"p":"P1","a":"P","t":25,"s":42},{"p":"P1","a":"P","t":25.6,"s":40},{"p":"P1","a":"P","t":26,"s":38.5},{"p":"P1","a":"P","t":29.7,"s":38.5},
 {"p":"P1","a":"C","t":0,"s":100},{"p":"P1","a":"C","t":0.4,"s":97},{"p":"P1","a":"C","t":0.7,"s":95},{"p":"P1","a":"C","t":1,"s":92},{"p":"P1","a":"C","t":1.3,"s":89},{"p":"P1","a":"C","t":1.7,"s":86},{"p":"P1","a":"C","t":2,"s":84},{"p":"P1","a":"C","t":2.5,"s":82},{"p":"P1","a":"C","t":2.9,"s":80},{"p":"P1","a":"C","t":3.2,"s":77},{"p":"P1","a":"C","t":3.5,"s":73},{"p":"P1","a":"C","t":4,"s":71},{"p":"P1","a":"C","t":4.5,"s":69},{"p":"P1","a":"C","t":5,"s":66},{"p":"P1","a":"C","t":5.4,"s":63},{"p":"P1","a":"C","t":5.8,"s":61},{"p":"P1","a":"C","t":6.9,"s":58},{"p":"P1","a":"C","t":7.1,"s":53},{"p":"P1","a":"C","t":7.4,"s":50},{"p":"P1","a":"C","t":7.8,"s":47.5},{"p":"P1","a":"C","t":8.8,"s":46.5},{"p":"P1","a":"C","t":9.5,"s":44},{"p":"P1","a":"C","t":9.9,"s":41},{"p":"P1","a":"C","t":10.5,"s":39.5},{"p":"P1","a":"C","t":11.2,"s":37.5},{"p":"P1","a":"C","t":11.8,"s":35},{"p":"P1","a":"C","t":13.7,"s":33.5},{"p":"P1","a":"C","t":14.3,"s":31.5},{"p":"P1","a":"C","t":15,"s":30},{"p":"P1","a":"C","t":15.8,"s":29},{"p":"P1","a":"C","t":16.6,"s":28},{"p":"P1","a":"C","t":17.5,"s":27},{"p":"P1","a":"C","t":18.8,"s":26},{"p":"P1","a":"C","t":19.3,"s":24},{"p":"P1","a":"C","t":21.5,"s":23},{"p":"P1","a":"C","t":23.8,"s":22},{"p":"P1","a":"C","t":24.1,"s":19.5},{"p":"P1","a":"C","t":29.5,"s":19.5},
 {"p":"P2","a":"P","t":0,"s":100},{"p":"P2","a":"P","t":0.5,"s":98},{"p":"P2","a":"P","t":0.8,"s":96},{"p":"P2","a":"P","t":1.2,"s":93},{"p":"P2","a":"P","t":1.5,"s":90.5},{"p":"P2","a":"P","t":1.9,"s":88},{"p":"P2","a":"P","t":2.2,"s":86},{"p":"P2","a":"P","t":2.6,"s":84},{"p":"P2","a":"P","t":3.1,"s":82},{"p":"P2","a":"P","t":3.5,"s":80},{"p":"P2","a":"P","t":4,"s":77.5},{"p":"P2","a":"P","t":4.4,"s":74},{"p":"P2","a":"P","t":4.7,"s":72},{"p":"P2","a":"P","t":5.1,"s":69},{"p":"P2","a":"P","t":5.4,"s":66},{"p":"P2","a":"P","t":5.8,"s":62},{"p":"P2","a":"P","t":6.1,"s":58},{"p":"P2","a":"P","t":6.5,"s":54},{"p":"P2","a":"P","t":6.9,"s":50},{"p":"P2","a":"P","t":7.3,"s":48},{"p":"P2","a":"P","t":7.9,"s":47},{"p":"P2","a":"P","t":8.6,"s":46},{"p":"P2","a":"P","t":8.9,"s":41},{"p":"P2","a":"P","t":9.2,"s":37.5},{"p":"P2","a":"P","t":10,"s":36.5},{"p":"P2","a":"P","t":10.7,"s":35},{"p":"P2","a":"P","t":11.3,"s":32},{"p":"P2","a":"P","t":11.8,"s":30},{"p":"P2","a":"P","t":12.3,"s":29},{"p":"P2","a":"P","t":12.8,"s":27.5},{"p":"P2","a":"P","t":13.6,"s":26},{"p":"P2","a":"P","t":14.5,"s":24.5},{"p":"P2","a":"P","t":15.5,"s":23.5},{"p":"P2","a":"P","t":17.1,"s":21},{"p":"P2","a":"P","t":17.6,"s":20},{"p":"P2","a":"P","t":18.6,"s":18},{"p":"P2","a":"P","t":19.5,"s":16},{"p":"P2","a":"P","t":20.2,"s":14.5},{"p":"P2","a":"P","t":21.5,"s":14},{"p":"P2","a":"P","t":23.5,"s":13},{"p":"P2","a":"P","t":23.9,"s":9},{"p":"P2","a":"P","t":28.7,"s":9},
 {"p":"P2","a":"C","t":0,"s":100},{"p":"P2","a":"C","t":0.4,"s":98},{"p":"P2","a":"C","t":0.8,"s":96},{"p":"P2","a":"C","t":1,"s":93},{"p":"P2","a":"C","t":1.2,"s":89},{"p":"P2","a":"C","t":1.3,"s":84},{"p":"P2","a":"C","t":1.4,"s":76},{"p":"P2","a":"C","t":1.5,"s":68},{"p":"P2","a":"C","t":1.9,"s":66},{"p":"P2","a":"C","t":2.3,"s":63},{"p":"P2","a":"C","t":2.7,"s":60},{"p":"P2","a":"C","t":3,"s":57.5},{"p":"P2","a":"C","t":3.4,"s":54},{"p":"P2","a":"C","t":3.8,"s":52},{"p":"P2","a":"C","t":4.1,"s":49},{"p":"P2","a":"C","t":4.3,"s":44},{"p":"P2","a":"C","t":4.5,"s":38},{"p":"P2","a":"C","t":4.7,"s":33},{"p":"P2","a":"C","t":4.9,"s":29},{"p":"P2","a":"C","t":5.3,"s":26},{"p":"P2","a":"C","t":5.7,"s":24},{"p":"P2","a":"C","t":6.2,"s":22},{"p":"P2","a":"C","t":6.7,"s":20.5},{"p":"P2","a":"C","t":7.2,"s":19},{"p":"P2","a":"C","t":7.8,"s":17},{"p":"P2","a":"C","t":8.2,"s":15},{"p":"P2","a":"C","t":8.6,"s":13},{"p":"P2","a":"C","t":9,"s":11},{"p":"P2","a":"C","t":9.5,"s":9.5},{"p":"P2","a":"C","t":10,"s":8},{"p":"P2","a":"C","t":10.5,"s":6.5},{"p":"P2","a":"C","t":11,"s":5},{"p":"P2","a":"C","t":14.8,"s":4},{"p":"P2","a":"C","t":17.2,"s":2},{"p":"P2","a":"C","t":23.9,"s":2},{"p":"P2","a":"C","t":24,"s":0},
 {"p":"P3","a":"P","t":0,"s":100},{"p":"P3","a":"P","t":0.5,"s":99},{"p":"P3","a":"P","t":1,"s":98},{"p":"P3","a":"P","t":1.5,"s":97},{"p":"P3","a":"P","t":2,"s":96},{"p":"P3","a":"P","t":2.5,"s":95},{"p":"P3","a":"P","t":3,"s":94},{"p":"P3","a":"P","t":3.5,"s":93},{"p":"P3","a":"P","t":4,"s":92},{"p":"P3","a":"P","t":4.5,"s":91},{"p":"P3","a":"P","t":5,"s":89.5},{"p":"P3","a":"P","t":5.5,"s":88},{"p":"P3","a":"P","t":6,"s":87},{"p":"P3","a":"P","t":6.5,"s":86},{"p":"P3","a":"P","t":7,"s":85},{"p":"P3","a":"P","t":7.5,"s":84},{"p":"P3","a":"P","t":8,"s":82.5},{"p":"P3","a":"P","t":8.5,"s":81},{"p":"P3","a":"P","t":9,"s":80},{"p":"P3","a":"P","t":9.5,"s":78.5},{"p":"P3","a":"P","t":10,"s":77},{"p":"P3","a":"P","t":10.5,"s":75.5},{"p":"P3","a":"P","t":11,"s":74},{"p":"P3","a":"P","t":11.5,"s":72},{"p":"P3","a":"P","t":12,"s":70.2},{"p":"P3","a":"P","t":12.5,"s":69},{"p":"P3","a":"P","t":13,"s":68},{"p":"P3","a":"P","t":13.5,"s":67},{"p":"P3","a":"P","t":14,"s":66},{"p":"P3","a":"P","t":14.5,"s":65},{"p":"P3","a":"P","t":15,"s":64},{"p":"P3","a":"P","t":15.5,"s":63},{"p":"P3","a":"P","t":16,"s":62},{"p":"P3","a":"P","t":17,"s":61},{"p":"P3","a":"P","t":17.5,"s":60},{"p":"P3","a":"P","t":18,"s":59},{"p":"P3","a":"P","t":18.5,"s":58},{"p":"P3","a":"P","t":19.5,"s":57},{"p":"P3","a":"P","t":20,"s":56},{"p":"P3","a":"P","t":20.5,"s":55},{"p":"P3","a":"P","t":21,"s":54},{"p":"P3","a":"P","t":21.5,"s":53},{"p":"P3","a":"P","t":22,"s":51.5},{"p":"P3","a":"P","t":22.6,"s":50},{"p":"P3","a":"P","t":23,"s":49},{"p":"P3","a":"P","t":23.5,"s":48},{"p":"P3","a":"P","t":24,"s":47.5},{"p":"P3","a":"P","t":25,"s":46},{"p":"P3","a":"P","t":25.5,"s":45},{"p":"P3","a":"P","t":26,"s":44},{"p":"P3","a":"P","t":26.5,"s":43},{"p":"P3","a":"P","t":32.7,"s":43},
 {"p":"P3","a":"C","t":0,"s":100},{"p":"P3","a":"C","t":0.5,"s":99},{"p":"P3","a":"C","t":1,"s":98},{"p":"P3","a":"C","t":1.5,"s":97},{"p":"P3","a":"C","t":2,"s":96},{"p":"P3","a":"C","t":2.5,"s":94.5},{"p":"P3","a":"C","t":3,"s":93},{"p":"P3","a":"C","t":3.5,"s":91.5},{"p":"P3","a":"C","t":4,"s":90},{"p":"P3","a":"C","t":4.5,"s":87.5},{"p":"P3","a":"C","t":5,"s":84},{"p":"P3","a":"C","t":5.5,"s":81},{"p":"P3","a":"C","t":6,"s":78.5},{"p":"P3","a":"C","t":6.5,"s":76},{"p":"P3","a":"C","t":7,"s":73.5},{"p":"P3","a":"C","t":7.5,"s":70.5},{"p":"P3","a":"C","t":8,"s":68},{"p":"P3","a":"C","t":8.5,"s":65.5},{"p":"P3","a":"C","t":9,"s":63.5},{"p":"P3","a":"C","t":9.5,"s":62},{"p":"P3","a":"C","t":10,"s":60.5},{"p":"P3","a":"C","t":10.5,"s":59},{"p":"P3","a":"C","t":11,"s":57.5},{"p":"P3","a":"C","t":11.5,"s":55.5},{"p":"P3","a":"C","t":12,"s":53.6},{"p":"P3","a":"C","t":12.5,"s":52.5},{"p":"P3","a":"C","t":13,"s":51.5},{"p":"P3","a":"C","t":13.6,"s":50},{"p":"P3","a":"C","t":14,"s":49},{"p":"P3","a":"C","t":14.5,"s":48},{"p":"P3","a":"C","t":15,"s":47},{"p":"P3","a":"C","t":15.5,"s":46},{"p":"P3","a":"C","t":16,"s":45},{"p":"P3","a":"C","t":16.5,"s":44},{"p":"P3","a":"C","t":17,"s":43},{"p":"P3","a":"C","t":17.5,"s":42},{"p":"P3","a":"C","t":18,"s":41.5},{"p":"P3","a":"C","t":19,"s":40.5},{"p":"P3","a":"C","t":20,"s":39.5},{"p":"P3","a":"C","t":21,"s":38.5},{"p":"P3","a":"C","t":22,"s":37.5},{"p":"P3","a":"C","t":23,"s":36.5},{"p":"P3","a":"C","t":24,"s":35.5},{"p":"P3","a":"C","t":25,"s":34.5},{"p":"P3","a":"C","t":26,"s":33.5},{"p":"P3","a":"C","t":27,"s":33},{"p":"P3","a":"C","t":28,"s":32.5},{"p":"P3","a":"C","t":29,"s":32},{"p":"P3","a":"C","t":30,"s":31.5},{"p":"P3","a":"C","t":30.9,"s":30.5},{"p":"P3","a":"C","t":31.1,"s":25.5},{"p":"P3","a":"C","t":32.2,"s":25.5},
 {"p":"P4","a":"P","t":0,"s":100},{"p":"P4","a":"P","t":0.4,"s":98.5},{"p":"P4","a":"P","t":0.8,"s":97},{"p":"P4","a":"P","t":1.2,"s":95.5},{"p":"P4","a":"P","t":1.6,"s":94},{"p":"P4","a":"P","t":2,"s":92},{"p":"P4","a":"P","t":2.4,"s":90.5},{"p":"P4","a":"P","t":2.8,"s":89},{"p":"P4","a":"P","t":3.2,"s":87.5},{"p":"P4","a":"P","t":3.6,"s":86},{"p":"P4","a":"P","t":4,"s":84},{"p":"P4","a":"P","t":4.3,"s":81},{"p":"P4","a":"P","t":4.6,"s":78},{"p":"P4","a":"P","t":4.9,"s":75},{"p":"P4","a":"P","t":5.2,"s":73},{"p":"P4","a":"P","t":5.5,"s":71.5},{"p":"P4","a":"P","t":5.9,"s":69.5},{"p":"P4","a":"P","t":6.2,"s":66},{"p":"P4","a":"P","t":6.5,"s":63},{"p":"P4","a":"P","t":6.8,"s":60.5},{"p":"P4","a":"P","t":7.2,"s":58.5},{"p":"P4","a":"P","t":7.6,"s":57},{"p":"P4","a":"P","t":8,"s":55.5},{"p":"P4","a":"P","t":8.4,"s":53},{"p":"P4","a":"P","t":8.8,"s":50},{"p":"P4","a":"P","t":9.2,"s":48.5},{"p":"P4","a":"P","t":9.6,"s":47},{"p":"P4","a":"P","t":10,"s":46},{"p":"P4","a":"P","t":10.5,"s":44.5},{"p":"P4","a":"P","t":11,"s":42.5},{"p":"P4","a":"P","t":11.5,"s":41},{"p":"P4","a":"P","t":12,"s":39.2},{"p":"P4","a":"P","t":12.5,"s":38},{"p":"P4","a":"P","t":13,"s":37},{"p":"P4","a":"P","t":13.5,"s":36},{"p":"P4","a":"P","t":14,"s":35.5},{"p":"P4","a":"P","t":15,"s":34.5},{"p":"P4","a":"P","t":15.5,"s":34},{"p":"P4","a":"P","t":16,"s":33},{"p":"P4","a":"P","t":16.5,"s":32},{"p":"P4","a":"P","t":17,"s":31},{"p":"P4","a":"P","t":17.5,"s":30},{"p":"P4","a":"P","t":18,"s":29.5},{"p":"P4","a":"P","t":19,"s":28.5},{"p":"P4","a":"P","t":20,"s":27.5},{"p":"P4","a":"P","t":21,"s":27},{"p":"P4","a":"P","t":22,"s":26},{"p":"P4","a":"P","t":23,"s":25.5},{"p":"P4","a":"P","t":24,"s":24.5},{"p":"P4","a":"P","t":24.5,"s":24},{"p":"P4","a":"P","t":25,"s":23},{"p":"P4","a":"P","t":25.5,"s":22.5},{"p":"P4","a":"P","t":26,"s":21.5},{"p":"P4","a":"P","t":26.5,"s":20.5},{"p":"P4","a":"P","t":27,"s":19.5},{"p":"P4","a":"P","t":27.6,"s":18.5},{"p":"P4","a":"P","t":32.3,"s":18.5},
 {"p":"P4","a":"C","t":0,"s":100},{"p":"P4","a":"C","t":0.4,"s":98},{"p":"P4","a":"C","t":0.8,"s":96},{"p":"P4","a":"C","t":1.1,"s":93},{"p":"P4","a":"C","t":1.5,"s":89},{"p":"P4","a":"C","t":1.8,"s":86},{"p":"P4","a":"C","t":2.2,"s":84},{"p":"P4","a":"C","t":2.6,"s":81.5},{"p":"P4","a":"C","t":3,"s":79},{"p":"P4","a":"C","t":3.4,"s":76},{"p":"P4","a":"C","t":3.8,"s":73},{"p":"P4","a":"C","t":4.1,"s":69},{"p":"P4","a":"C","t":4.4,"s":63},{"p":"P4","a":"C","t":4.7,"s":56},{"p":"P4","a":"C","t":5,"s":52},{"p":"P4","a":"C","t":5.3,"s":49},{"p":"P4","a":"C","t":5.6,"s":44},{"p":"P4","a":"C","t":5.9,"s":40},{"p":"P4","a":"C","t":6.3,"s":35},{"p":"P4","a":"C","t":6.7,"s":32},{"p":"P4","a":"C","t":7.1,"s":30},{"p":"P4","a":"C","t":7.6,"s":29},{"p":"P4","a":"C","t":8.2,"s":28},{"p":"P4","a":"C","t":8.7,"s":26},{"p":"P4","a":"C","t":9.2,"s":24.5},{"p":"P4","a":"C","t":9.7,"s":23},{"p":"P4","a":"C","t":10.2,"s":22},{"p":"P4","a":"C","t":10.9,"s":20.5},{"p":"P4","a":"C","t":12,"s":20.1},{"p":"P4","a":"C","t":12.8,"s":19},{"p":"P4","a":"C","t":13.3,"s":17.5},{"p":"P4","a":"C","t":14,"s":16},{"p":"P4","a":"C","t":14.6,"s":14.5},{"p":"P4","a":"C","t":15.1,"s":13},{"p":"P4","a":"C","t":15.8,"s":12},{"p":"P4","a":"C","t":16.5,"s":11},{"p":"P4","a":"C","t":17.2,"s":10},{"p":"P4","a":"C","t":18,"s":9.5},{"p":"P4","a":"C","t":19.3,"s":8.5},{"p":"P4","a":"C","t":20.5,"s":8},{"p":"P4","a":"C","t":21.6,"s":7},{"p":"P4","a":"C","t":22.5,"s":6},{"p":"P4","a":"C","t":23.4,"s":4.5},{"p":"P4","a":"C","t":30.9,"s":4.5},{"p":"P4","a":"C","t":31.1,"s":1.5},{"p":"P4","a":"C","t":32.5,"s":1.5}
]
},
"config": {
 "font": "Liberation Sans, Noto Sans CJK SC",
 "view": {"stroke": null},
 "axis": {"domainColor": "#222222", "domainWidth": 2, "tickColor": "#222222", "tickWidth": 1.5, "tickSize": 4, "labelFontSize": 8, "labelColor": "#222222", "labelPadding": 2, "titleFontSize": 8.5, "titleFontWeight": "normal", "titleColor": "#222222", "grid": false, "labelFlush": false, "labelOverlap": false}
}
}
